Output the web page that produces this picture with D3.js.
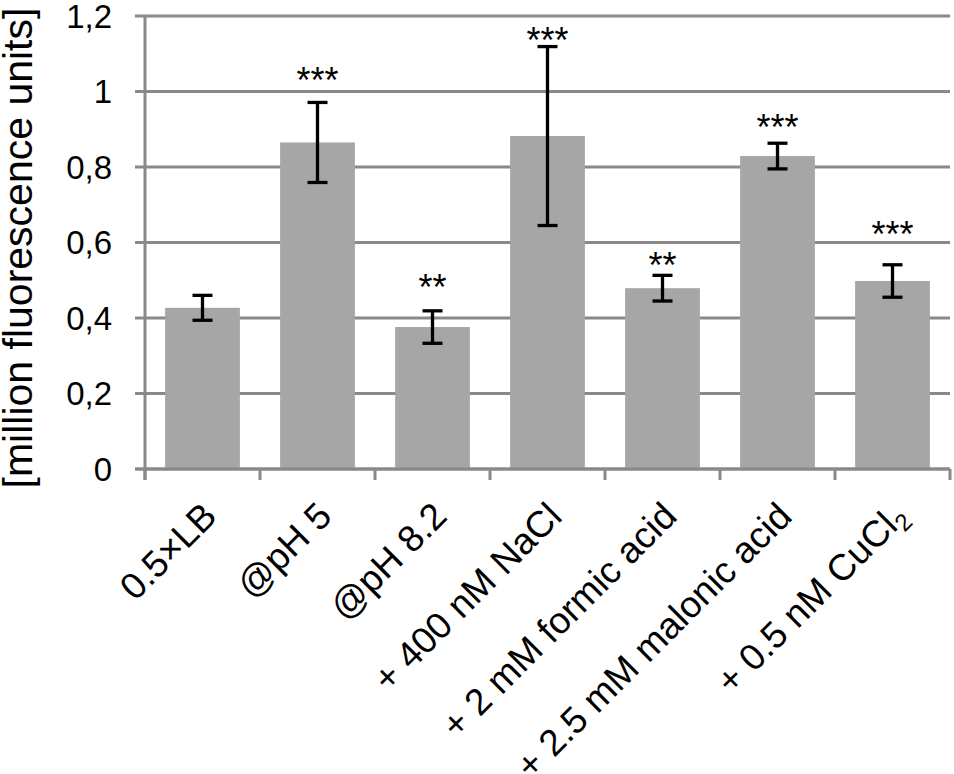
<!DOCTYPE html>
<html>
<head>
<meta charset="utf-8">
<script src="https://d3js.org/d3.v7.min.js"></script>
<style>
  body { margin: 0; background: #fff; }
  text { font-family: "Liberation Sans", Arial, sans-serif; fill: #000; }
</style>
</head>
<body>
<script>
// data
var categories = ["0.5×LB", "@pH 5", "@pH 8.2", "+ 400 nM NaCl", "+ 2 mM formic acid", "+ 2.5 mM malonic acid", "+ 0.5 nM CuCl2"];
var means = [0.427, 0.865, 0.376, 0.882, 0.479, 0.829, 0.498];
var errors = [0.033, 0.106, 0.043, 0.237, 0.034, 0.034, 0.043];
var stars = ["", "***", "**", "***", "**", "***", "***"];
// where the significance marks sit, in data units
var starLevels = [0, 1.052, 0.506, 1.16, 0.564, 0.930, 0.646];
var yTicks = [0, 0.2, 0.4, 0.6, 0.8, 1, 1.2];

var w = 954, h = 774;
// plot box (note: "top" is taken by window.top)
var mLeft = 145, mRight = 950, mTop = 16, mBottom = 469;

var svg = d3.select("body").append("svg")
    .attr("width", w)
    .attr("height", h);

var x = d3.scaleBand()
    .domain(categories)
    .range([mLeft, mRight])
    .paddingInner(0.35)
    .paddingOuter(0.175);

var y = d3.scaleLinear()
    .domain([0, 1.2])
    .range([mBottom, mTop]);

var fmt = function(d) { return String(d).replace(".", ","); };

// gridlines
svg.append("g")
    .selectAll("line")
    .data(yTicks)
    .enter().append("line")
    .attr("x1", mLeft - 10)
    .attr("x2", mRight)
    .attr("y1", function(d) { return y(d); })
    .attr("y2", function(d) { return y(d); })
    .attr("stroke", "#898989")
    .attr("stroke-width", 3);

// y axis line
svg.append("line")
    .attr("x1", mLeft).attr("x2", mLeft)
    .attr("y1", mTop).attr("y2", mBottom + 11)
    .attr("stroke", "#898989")
    .attr("stroke-width", 3);

// y tick labels
svg.append("g")
    .selectAll("text")
    .data(yTicks)
    .enter().append("text")
    .attr("x", mLeft - 33)
    .attr("y", function(d) { return y(d); })
    .attr("dy", "0.36em")
    .attr("text-anchor", "end")
    .attr("font-size", 33)
    .text(fmt);

// bars
svg.append("g")
    .selectAll("rect")
    .data(categories)
    .enter().append("rect")
    .attr("x", function(d) { return x(d); })
    .attr("y", function(d, i) { return y(means[i]); })
    .attr("width", x.bandwidth())
    .attr("height", function(d, i) { return mBottom - y(means[i]); })
    .attr("fill", "#a6a6a6");

// x axis line + ticks at category boundaries
svg.append("line")
    .attr("x1", mLeft - 10).attr("x2", mRight)
    .attr("y1", mBottom).attr("y2", mBottom)
    .attr("stroke", "#898989")
    .attr("stroke-width", 3);

var step = x.step();
svg.append("g")
    .selectAll("line")
    .data(d3.range(categories.length + 1))
    .enter().append("line")
    .attr("x1", function(i) { return mLeft + i * step; })
    .attr("x2", function(i) { return mLeft + i * step; })
    .attr("y1", mBottom)
    .attr("y2", mBottom + 11)
    .attr("stroke", "#898989")
    .attr("stroke-width", 3);

// error bars
var err = svg.append("g")
    .attr("stroke", "#000")
    .attr("stroke-width", 3.3)
    .selectAll("g")
    .data(categories)
    .enter().append("g")
    .attr("transform", function(d) { return "translate(" + (x(d) + x.bandwidth() / 2) + ",0)"; });

err.append("line")
    .attr("y1", function(d, i) { return y(means[i] + errors[i]); })
    .attr("y2", function(d, i) { return y(means[i] - errors[i]); });
err.append("line")
    .attr("x1", -10).attr("x2", 10)
    .attr("y1", function(d, i) { return y(means[i] + errors[i]); })
    .attr("y2", function(d, i) { return y(means[i] + errors[i]); });
err.append("line")
    .attr("x1", -10).attr("x2", 10)
    .attr("y1", function(d, i) { return y(means[i] - errors[i]); })
    .attr("y2", function(d, i) { return y(means[i] - errors[i]); });

// significance stars
svg.append("g")
    .selectAll("text")
    .data(categories)
    .enter().append("text")
    .attr("x", function(d) { return x(d) + x.bandwidth() / 2; })
    .attr("y", function(d, i) { return y(starLevels[i]); })
    .attr("dy", "0.6em")
    .attr("text-anchor", "middle")
    .attr("font-size", 36)
    .text(function(d, i) { return stars[i]; });

// x labels, rotated
var xl = svg.append("g")
    .selectAll("text")
    .data(categories)
    .enter().append("text")
    .attr("transform", function(d) {
        return "translate(" + (x(d) + x.bandwidth() / 2 - 2) + "," + (mBottom + 31) + ") rotate(-45)";
    })
    .attr("dy", "0.7em")
    .attr("text-anchor", "end")
    .attr("font-size", 37);

xl.each(function(d) {
    var t = d3.select(this);
    if (d.slice(-1) === "2" && d.indexOf("Cl") > 0) {
        t.append("tspan").text(d.slice(0, -1));
        t.append("tspan").attr("font-size", 24).attr("dy", "0.3em").text("2");
    } else {
        t.text(d);
    }
});

// y axis title
svg.append("text")
    .attr("transform", "translate(32,248) rotate(-90)")
    .attr("text-anchor", "middle")
    .attr("font-size", 41)
    .text("[million fluorescence units]");
</script>
</body>
</html>
